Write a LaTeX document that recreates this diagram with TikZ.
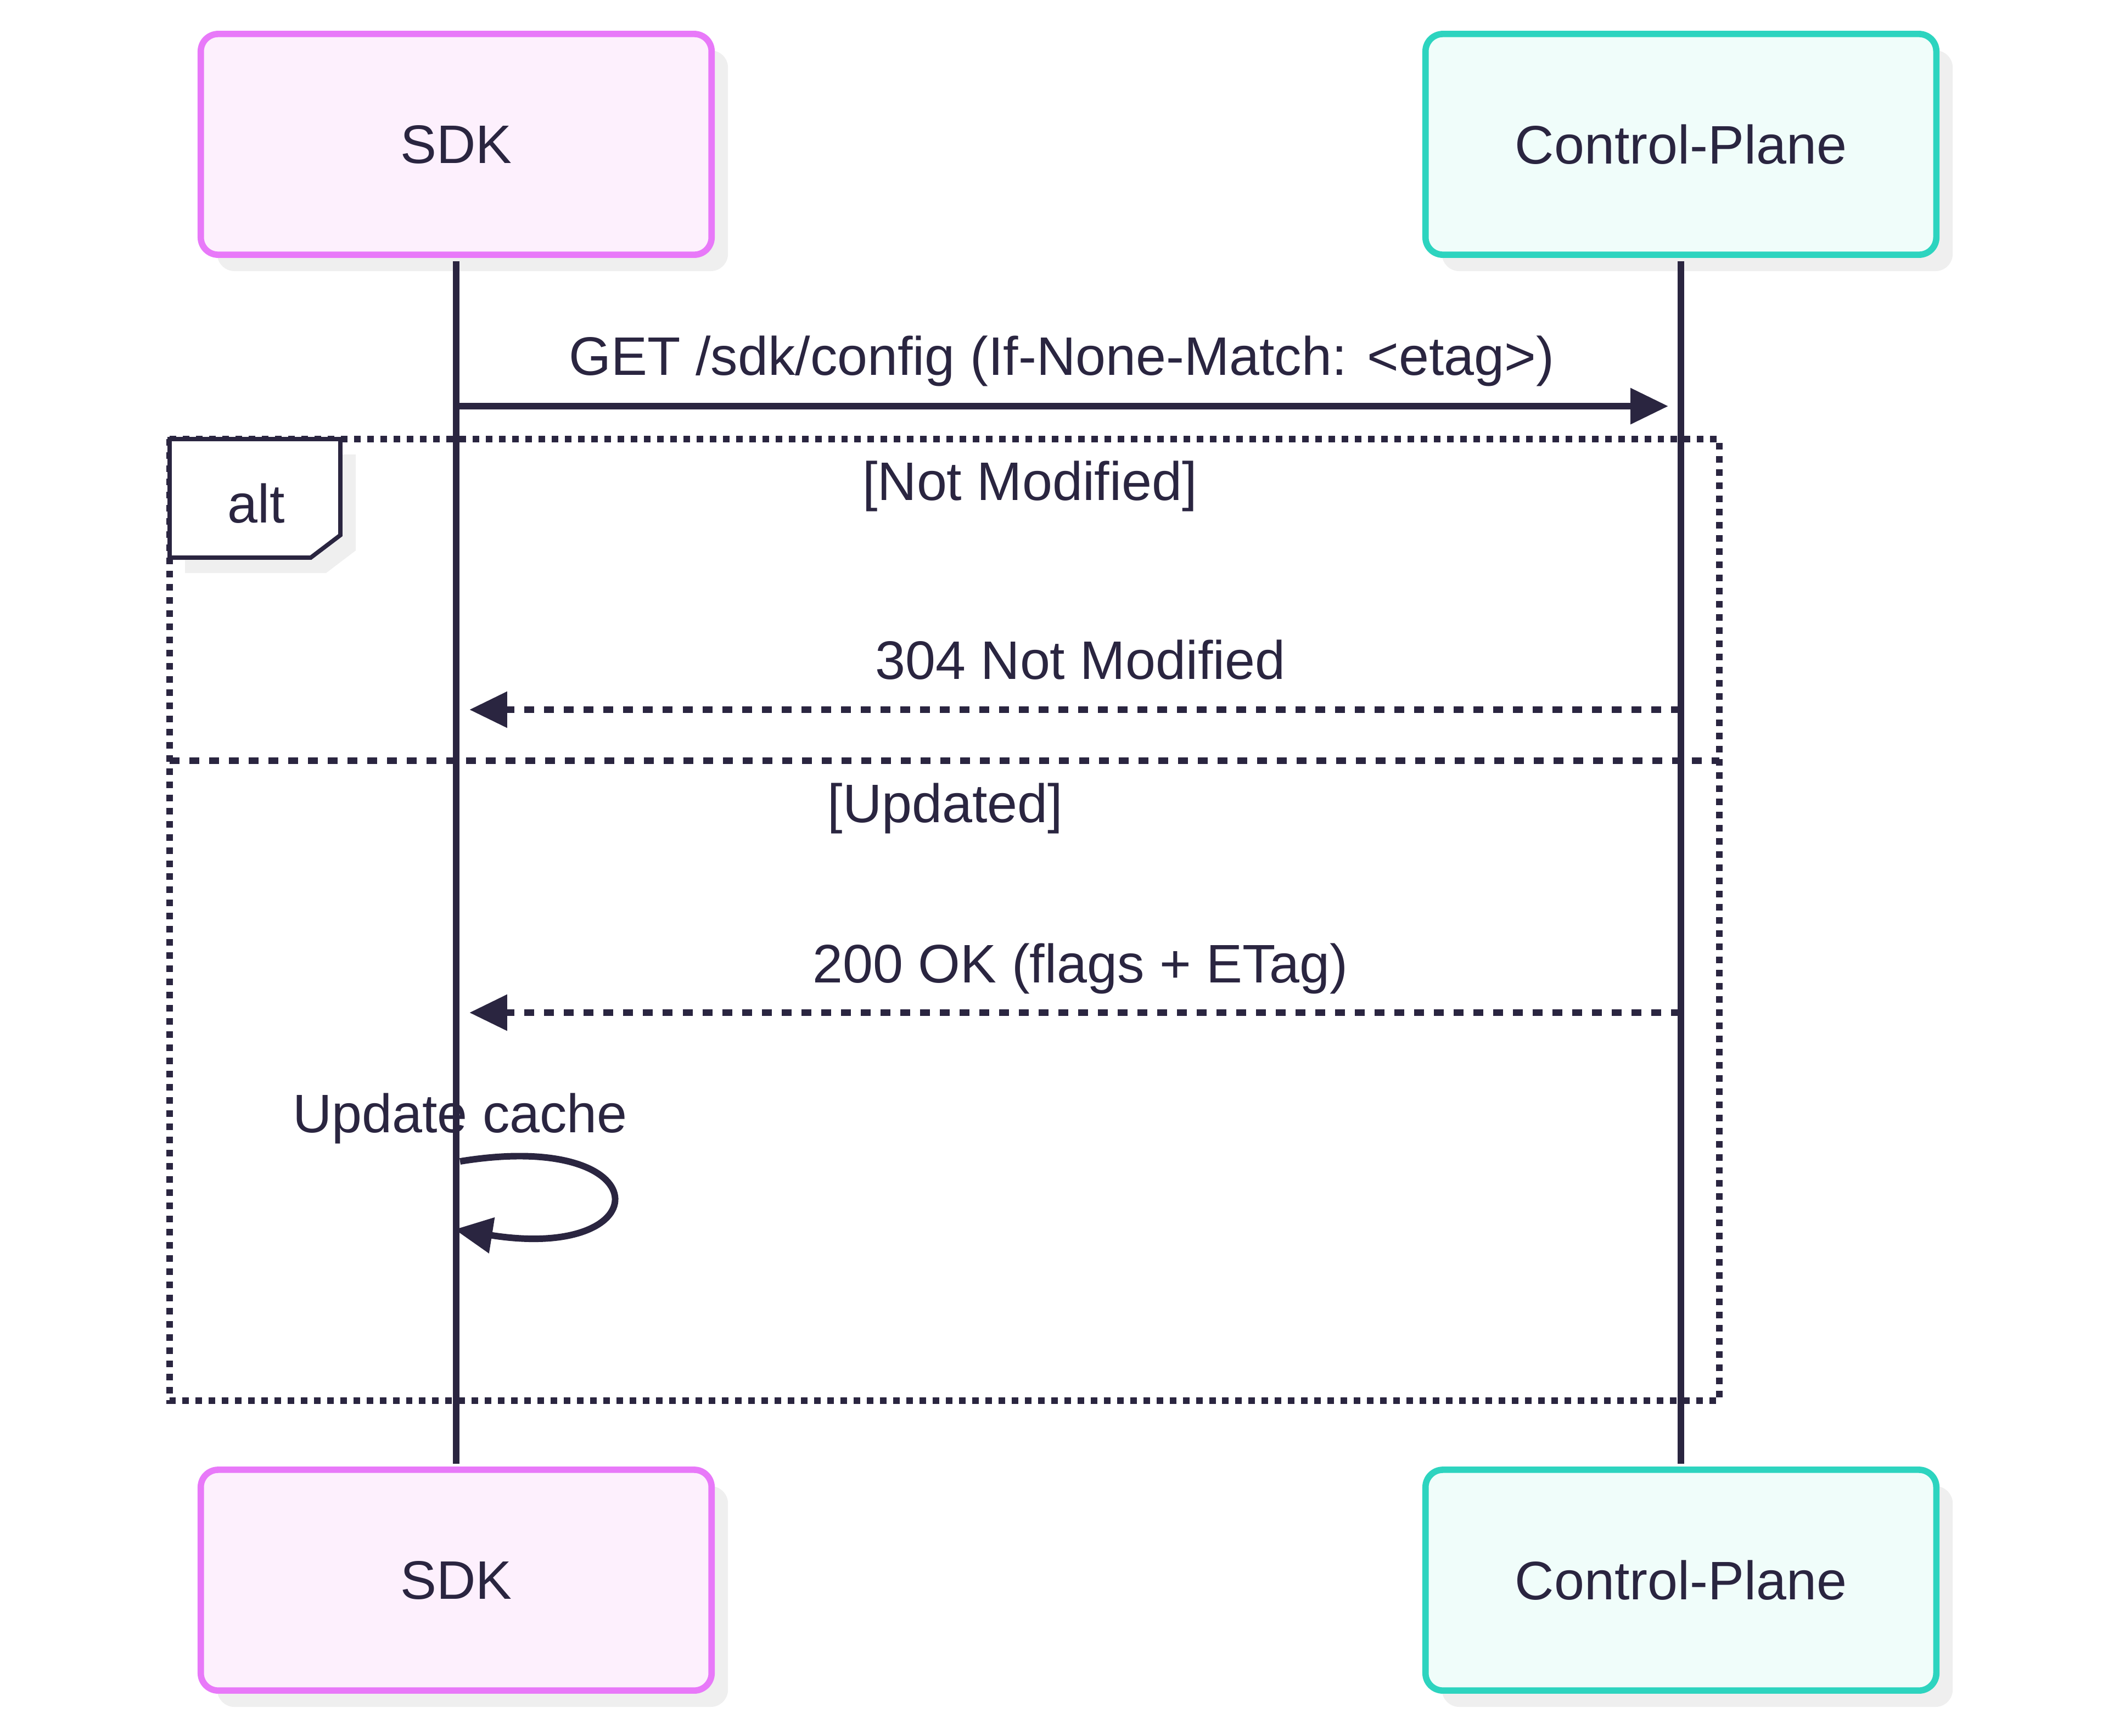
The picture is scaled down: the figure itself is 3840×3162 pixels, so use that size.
\documentclass[tikz,border=0pt]{standalone}
\usepackage{fontspec}
\setmainfont{Liberation Sans}
\usetikzlibrary{arrows.meta,shadows}
\definecolor{ink}{HTML}{2A2540}
\definecolor{sdkb}{HTML}{E879F9}
\definecolor{sdkf}{HTML}{FDF0FD}
\definecolor{cpb}{HTML}{2DD4BF}
\definecolor{cpf}{HTML}{F0FDFA}
\definecolor{shadowc}{HTML}{EFEFEF}
\begin{document}
\begin{tikzpicture}[x=0.01cm,y=-0.01cm,
  every node/.style={text=ink, font=\fontsize{28.1}{34}\selectfont, inner sep=0pt},
  actor/.style={draw, line width=3.3pt, rounded corners=9pt, minimum width=9.3cm, minimum height=4.02cm,
    general shadow={fill=shadowc, shadow xshift=8.5pt, shadow yshift=-8.5pt}},
  sdkactor/.style={actor, draw=sdkb, fill=sdkf},
  cpactor/.style={actor, draw=cpb, fill=cpf},
  life/.style={draw=ink, line width=3.4pt, shorten <=1.6pt, shorten >=1.6pt},
  msg/.style={draw=ink, line width=3.4pt, -{Triangle[length=19.6pt,width=18pt]}},
  reply/.style={msg, dash pattern=on 5.12pt off 5.12pt},
  altline/.style={draw=ink, line width=3.4pt, dash pattern=on 3.41pt off 3.41pt},
  sepline/.style={draw=ink, line width=3.4pt, dash pattern=on 5.12pt off 5.12pt},
  lbl/.style={anchor=base}
]
\useasboundingbox (0,0) rectangle (3840,3162);

% actors
\node[sdkactor] (sdkTop) at (831,263) {SDK};
\node[cpactor] (cpTop) at (3062,263) {Control-Plane};
\node[sdkactor] (sdkBot) at (831,2879) {SDK};
\node[cpactor] (cpBot) at (3062,2879) {Control-Plane};

% alt frame
\draw[altline] (309,800) rectangle (3132,2552);
\draw[sepline] (309,1386) -- (3132,1386);
\fill[shadowc] (337,828) -- (648,828) -- (648,1003) -- (594,1044) -- (337,1044) -- cycle;
\draw[ink, line width=2.2pt, fill=white] (309,800) -- (620,800) -- (620,975) -- (566,1016) -- (309,1016) -- cycle;
\node[lbl] (altlbl) at (467,952) {alt};
\node[lbl] (g1) at (1876,911) {[Not Modified]};
\node[lbl] (g2) at (1722,1498) {[Updated]};

% message labels
\node[lbl] (m1) at (1934,683) {GET /sdk/config (If-None-Match: \textless etag\textgreater)};
\node[lbl] (m2) at (1968,1237) {304 Not Modified};
\node[lbl] (m3) at (1968,1790) {200 OK (flags + ETag)};
\node[lbl] (m4) at (838,2063) {Update cache};

% lifelines
\draw[life] (sdkTop.south) -- (sdkBot.north);
\draw[life] (cpTop.south) -- (cpBot.north);

% messages
\coordinate (getS) at (sdkTop |- 0,740);
\coordinate (getE) at (3039,740);
\draw[msg] (getS) -- (getE);
\coordinate (r1S) at (cpTop |- 0,1293);
\coordinate (r1E) at (855,1293);
\draw[reply] (r1S) -- (r1E);
\coordinate (r2S) at (cpTop |- 0,1845);
\coordinate (r2E) at (855,1845);
\draw[reply] (r2S) -- (r2E);
\coordinate (selfS) at (838,2116);
\coordinate (selfE) at (828,2240);
\draw[msg] (selfS) .. controls (1205,2056) and (1205,2300) .. (selfE);
\end{tikzpicture}
\end{document}
